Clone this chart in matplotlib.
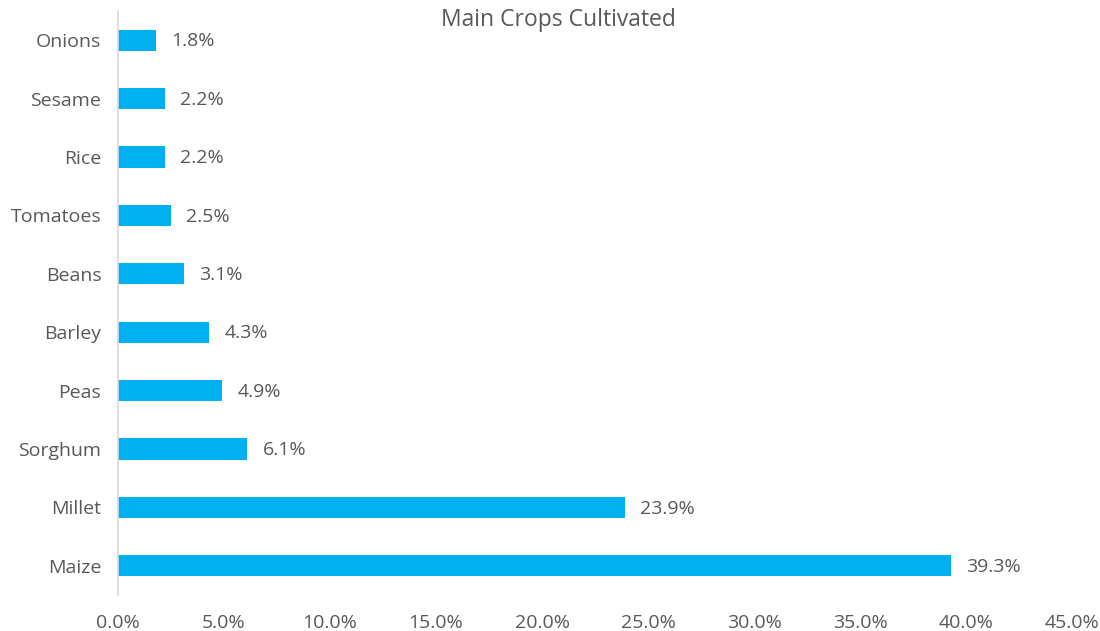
import matplotlib
matplotlib.use("Agg")
import matplotlib.pyplot as plt
from matplotlib.ticker import FuncFormatter

crops = ["Maize", "Millet", "Sorghum", "Peas", "Barley", "Beans", "Tomatoes", "Rice", "Sesame", "Onions"]
values = [39.3, 23.9, 6.1, 4.9, 4.3, 3.1, 2.5, 2.2, 2.2, 1.8]
xticks = [0, 5, 10, 15, 20, 25, 30, 35, 40, 45]

plt.rcParams['font.family'] = ['Open Sans', 'DejaVu Sans']
gray = '#595959'

fig = plt.figure(figsize=(11, 6.31), dpi=100)
ax = fig.add_axes([118/1100, 1 - 595/631, (1072-118)/1100, (595-11)/631])

y = range(len(crops))
ax.barh(y, values, height=0.36, color='#00B0F0')
for i, v in enumerate(values):
    ax.text(v + 0.72, i - 0.02, f"{v:.1f}%", va='center', ha='left', fontsize=14, color=gray)

ax.set_xlim(0, 45)
ax.set_ylim(-0.5, len(crops) - 0.5)
ax.set_yticks(list(y))
ax.set_yticklabels(crops, fontsize=14, color=gray)
ax.set_xticks(xticks)
ax.xaxis.set_major_formatter(FuncFormatter(lambda x, p: f"{x:.1f}%"))
ax.tick_params(axis='x', labelsize=14, colors=gray, length=0, pad=14)
ax.tick_params(axis='y', length=0, pad=12)
for s in ['top', 'right', 'bottom']:
    ax.spines[s].set_visible(False)
ax.spines['left'].set_color('#D9D9D9')
ax.spines['left'].set_linewidth(1.2)

fig.text(558/1100, 1 - 20/631, "Main Crops Cultivated", ha='center', va='center', fontsize=16.5, color=gray)

fig.savefig("out.png", dpi=100)
